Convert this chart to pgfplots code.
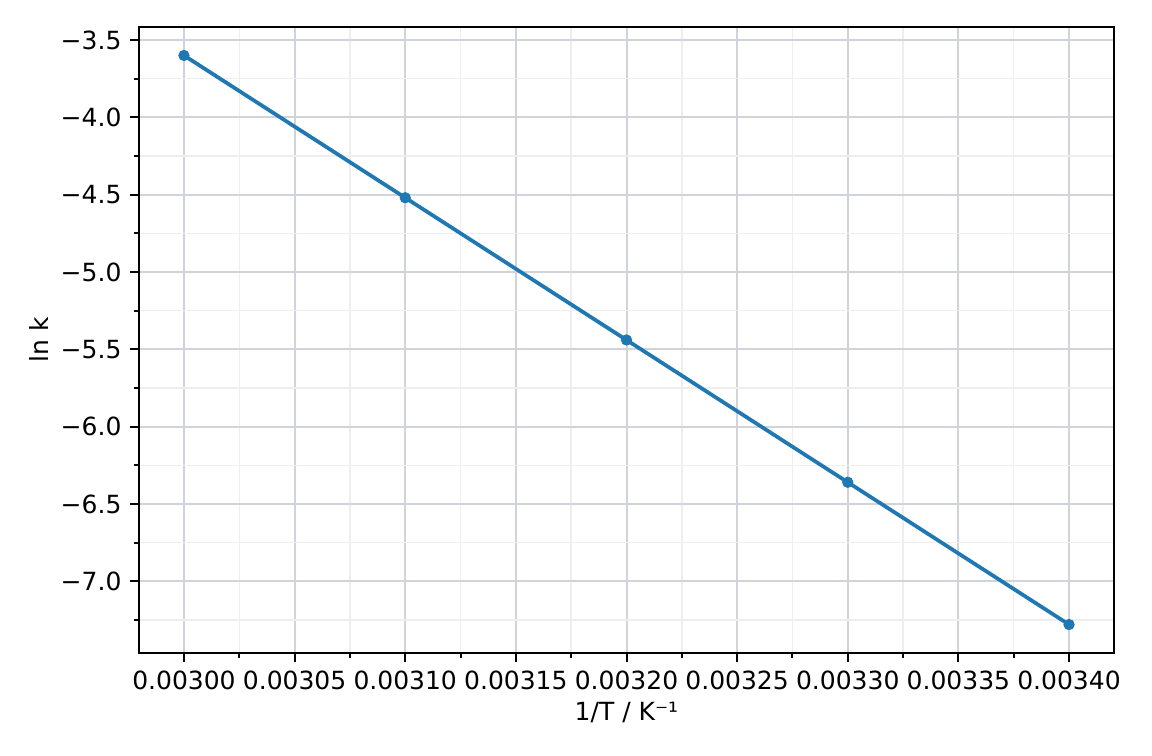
\documentclass[border=0pt]{standalone}
\usepackage{fontspec}
\setmainfont{DejaVu Sans}
\usepackage{pgfplots}
\pgfplotsset{compat=1.18}

\definecolor{mplblue}{HTML}{1F77B4}
\definecolor{majgrid}{HTML}{D0D3DA}
\definecolor{mingrid}{HTML}{EEEEEE}

\begin{document}
\begin{tikzpicture}
\begin{axis}[
  scale only axis,
  width=390pt, height=250.4pt,
  font=\fontsize{10}{12}\selectfont,
  xmin=0.00297968, xmax=0.00342032,
  ymin=-7.464, ymax=-3.416,
  xtick={0.003,0.00305,0.0031,0.00315,0.0032,0.00325,0.0033,0.00335,0.0034},
  minor xtick={0.003025,0.003075,0.003125,0.003175,0.003225,0.003275,0.003325,0.003375,0.002975,0.003425},
  ytick={-7,-6.5,-6,-5.5,-5,-4.5,-4,-3.5},
  yticklabels={−7.0,−6.5,−6.0,−5.5,−5.0,−4.5,−4.0,−3.5},
  minor ytick={-7.25,-6.75,-6.25,-5.75,-5.25,-4.75,-4.25,-3.75},
  scaled x ticks=false,
  xticklabel style={/pgf/number format/.cd, fixed, fixed zerofill, precision=5, assume math mode=true},
  tick align=outside,
  tick pos=left,
  major tick length=3.5pt,
  minor tick length=2pt,
  every tick/.style={black, line width=0.8pt},
  axis line style={line width=0.8pt},
  grid=both,
  major grid style={majgrid, line width=0.8pt},
  minor grid style={mingrid, line width=0.6pt},
  xlabel={1/T / K⁻¹},
  ylabel={ln k},
  xlabel style={yshift=2pt},
  ylabel style={yshift=-2pt},
]
\addplot[mplblue, line width=1.5pt, mark=*, mark size=2.1pt,
  mark options={solid, fill=mplblue, draw=mplblue, line width=0.3pt}]
  coordinates {(0.0030,-3.60) (0.0031,-4.52) (0.0032,-5.44) (0.0033,-6.36) (0.0034,-7.28)};
\end{axis}
\path ([shift={(-55.6pt,-41.2pt)}]current axis.south west) rectangle ([shift={(15.2pt,10.8pt)}]current axis.north east);
\end{tikzpicture}
\end{document}
